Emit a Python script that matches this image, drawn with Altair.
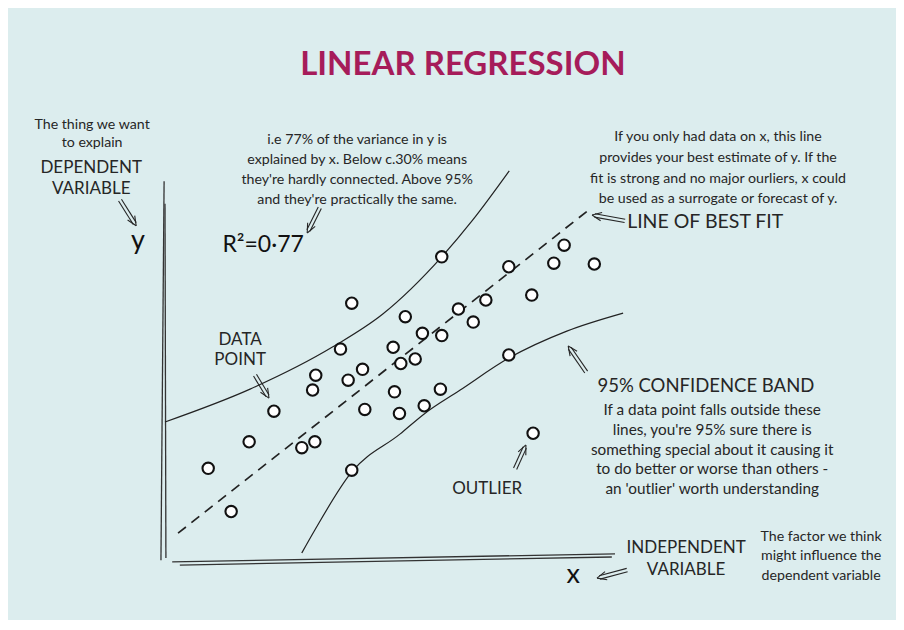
import math
import altair as alt
import pandas as pd

# ---- data (chart units: x 0..100 along the drawn x axis, y in the same units) ----
point_x = [9.6, 14.7, 18.7, 24.2, 30.4, 33.3, 32.8, 33.5, 39.0, 41.5, 40.7, 43.9,
           44.4, 41.5, 50.7, 52.4, 55.6, 51.0, 52.1, 57.6, 53.4, 57.2, 61.5, 61.2,
           61.5, 65.2, 68.5, 71.3, 76.4, 76.4, 81.5, 86.4, 88.7, 95.4, 81.8]
point_y = [19.7, 10.1, 25.6, 32.4, 24.3, 25.6, 37.1, 40.4, 46.2, 56.4, 39.3, 41.7,
           32.8, 19.3, 46.6, 43.0, 44.0, 36.7, 31.9, 33.6, 53.4, 49.7, 49.2, 37.3,
           66.7, 55.1, 52.2, 57.1, 64.5, 44.9, 58.2, 65.3, 69.3, 65.1, 27.5]

fit_x = [2.9, 94.4]
fit_y = [5.3, 77.3]

upper_x = [0.0, 18.9, 37.3, 48.4, 61.5, 68.4, 76.5]
upper_y = [30.0, 37.3, 46.7, 54.0, 66.7, 74.9, 85.8]

lower_x = [30.4, 33.3, 41.5, 52.2, 57.6, 65.6, 76.4, 89.3, 101.8]
lower_y = [0.9, 6.0, 18.9, 27.3, 31.8, 37.1, 44.2, 50.2, 54.2]

# hand-drawn axis strokes: (x, y, x2, y2)
axis_strokes = [
    (-0.9, -0.7, -0.2, 83.5),
    (0.2, -0.2, 0.0, 78.5),
    (1.6, -1.1, 100.0, 0.7),
    (3.3, -1.8, 99.3, 0.0),
]

# arrows: (tail_x, tail_y, tip_x, tip_y)
arrows = [
    (-10.0, 79.3, -6.4, 73.6),
    (34.4, 77.6, 31.6, 72.0),
    (20.0, 40.4, 23.1, 35.3),
    (102.2, 74.7, 94.9, 76.0),
    (93.6, 41.1, 89.6, 46.9),
    (77.8, 19.6, 80.2, 24.9),
    (102.7, -2.9, 96.0, -4.7),
]

title_text = "LINEAR REGRESSION"
title_pos = (66.2, 109.3)

notes_top = [
    (-16.2, 96.0, "The thing we want"),
    (-16.2, 92.0, "to explain"),
    (42.7, 92.7, "i.e 77% of the variance in y is"),
    (42.7, 88.2, "explained by x. Below c.30% means"),
    (42.7, 83.8, "they're hardly connected.  Above 95%"),
    (42.7, 79.3, "and they're practically the same."),
    (122.9, 93.3, "If you only had data on x, this line"),
    (122.9, 88.7, "provides your best estimate of y.  If the"),
    (122.9, 84.0, "fit is strong and no major ourliers, x could"),
    (122.9, 79.6, "be used as a surrogate or forecast of y."),
    (145.8, 4.4, "The factor we think"),
    (145.8, 0.2, "might influence the"),
    (145.8, -4.2, "dependent variable"),
]

notes_band = [
    (121.6, 32.7, "If a data point falls outside these"),
    (121.6, 28.2, "lines, you're 95% sure there is"),
    (121.6, 23.8, "something special about it causing it"),
    (121.6, 19.6, "to do better or worse than others -"),
    (121.6, 15.1, "an 'outlier' worth understanding"),
]

labels = [
    (-16.4, 86.4, "DEPENDENT"),
    (-16.4, 81.8, "VARIABLE"),
    (16.7, 48.2, "DATA"),
    (16.7, 43.8, "POINT"),
    (71.6, 15.1, "OUTLIER"),
    (115.8, 2.0, "INDEPENDENT"),
    (115.8, -2.9, "VARIABLE"),
]

big_center = [(120.2, 38.0, "95% CONFIDENCE BAND")]
big_left = [(102.7, 74.4, "LINE OF BEST FIT")]

axis_letters = [
    (-6.0, 70.2, "y"),
    (90.7, -4.0, "x"),
]
r2_label = [(21.8, 69.3, "R²=0·77")]

# ---- build tables ----
points = pd.DataFrame({"x": point_x, "y": point_y})
fit = pd.DataFrame({"x": fit_x, "y": fit_y})
upper = pd.DataFrame({"x": upper_x, "y": upper_y})
lower = pd.DataFrame({"x": lower_x, "y": lower_y})
axes_df = pd.DataFrame(axis_strokes, columns=["x", "y", "x2", "y2"])


def arrow_segments(tx, ty, hx, hy, head=2.3, ang=24, gap=0.38):
    dx, dy = hx - tx, hy - ty
    L = math.hypot(dx, dy)
    ux, uy = dx / L, dy / L
    nx, ny = -uy, ux
    segs = []
    for s in (-1, 1):
        a = math.radians(ang) * s
        rx = ux * math.cos(a) - uy * math.sin(a)
        ry = ux * math.sin(a) + uy * math.cos(a)
        segs.append((hx, hy, hx - head * rx, hy - head * ry))
        segs.append((tx + s * gap * nx, ty + s * gap * ny,
                     hx - 0.6 * ux + s * gap * nx, hy - 0.6 * uy + s * gap * ny))
    return segs


arrow_rows = []
for a in arrows:
    arrow_rows += arrow_segments(*a)
arrows_df = pd.DataFrame(arrow_rows, columns=["x", "y", "x2", "y2"])


def tdf(rows):
    return pd.DataFrame(rows, columns=["x", "y", "t"])


X = alt.Scale(domain=[0, 100], range=[157, 607], nice=False, zero=False)
Y = alt.Scale(domain=[0, 100], range=[549, 99], nice=False, zero=False)
INK = "#262626"
FONT = "Lato"


def xy(c):
    return c.encode(
        x=alt.X("x:Q", scale=X, axis=None),
        y=alt.Y("y:Q", scale=Y, axis=None),
    )


def text_layer(rows, size, align="center", color=INK, weight="normal"):
    return xy(alt.Chart(tdf(rows)).mark_text(
        font=FONT, fontSize=size, color=color, align=align, baseline="middle",
        fontWeight=weight)).encode(text="t:N")


axes_layer = alt.Chart(axes_df).mark_rule(color="#333", strokeWidth=1.3).encode(
    x=alt.X("x:Q", scale=X, axis=None), y=alt.Y("y:Q", scale=Y, axis=None),
    x2="x2:Q", y2="y2:Q")

arrow_layer = alt.Chart(arrows_df).mark_rule(color=INK, strokeWidth=1.1).encode(
    x=alt.X("x:Q", scale=X, axis=None), y=alt.Y("y:Q", scale=Y, axis=None),
    x2="x2:Q", y2="y2:Q")

fit_layer = xy(alt.Chart(fit).mark_line(color="#222", strokeWidth=1.7, strokeDash=[10, 7]))
upper_layer = xy(alt.Chart(upper).mark_line(color="#222", strokeWidth=1.2, interpolate="monotone"))
lower_layer = xy(alt.Chart(lower).mark_line(color="#222", strokeWidth=1.2, interpolate="monotone"))

point_layer = xy(alt.Chart(points).mark_point(
    shape="circle", filled=False, fill="white", fillOpacity=1, stroke="#111",
    strokeWidth=2.1, size=130, opacity=1))

chart = alt.layer(
    axes_layer, fit_layer, upper_layer, lower_layer, arrow_layer, point_layer,
    text_layer(notes_top, 14.2),
    text_layer(notes_band, 15.3),
    text_layer(labels, 17),
    text_layer(big_center, 18.5),
    text_layer(big_left, 19.5, align="left"),
    text_layer(axis_letters, 27, color="#111"),
    text_layer(r2_label, 23, color="#111"),
    text_layer([(title_pos[0], title_pos[1], title_text)], 33, color="#a61c5a", weight="bold"),
).properties(
    width=888, height=612, background="#dcedee", padding=0,
    autosize=alt.AutoSizeParams(type="none"),
).configure_view(strokeWidth=0)

chart.save("out.html", embed_options={"renderer": "svg", "actions": False})
